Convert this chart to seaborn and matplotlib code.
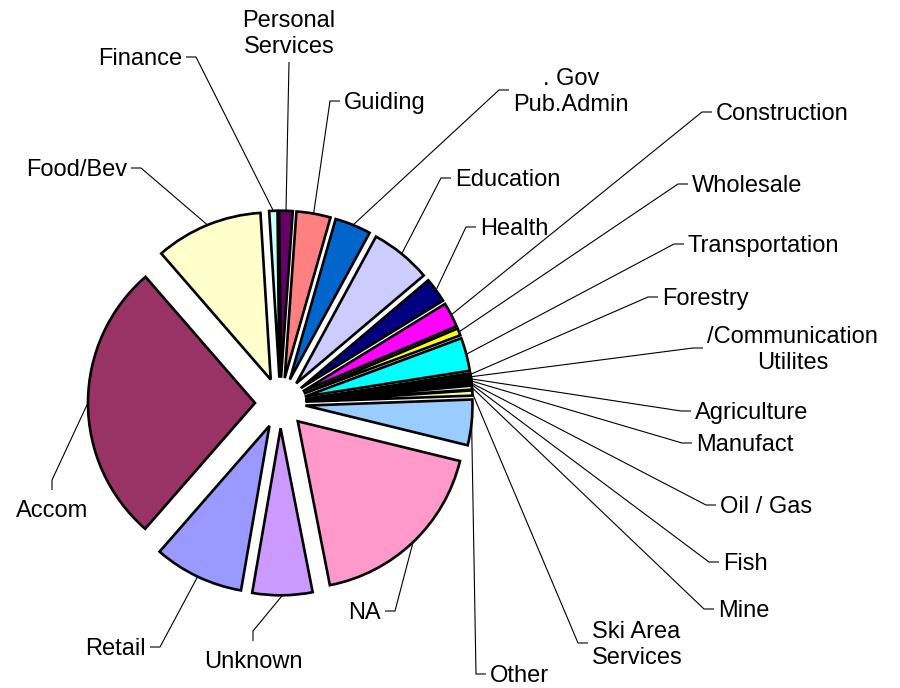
import matplotlib
matplotlib.use("Agg")
import matplotlib.pyplot as plt
import numpy as np
import seaborn as sns

# Share of employment by sector (%), listed clockwise starting from Retail
sectors = [
    "Retail", "Accom", "Food/Bev", "Finance", "Personal\nServices", "Guiding",
    ". Gov\nPub.Admin", "Education", "Health", "Construction", "Wholesale",
    "Transportation", "Forestry", "/Communication\nUtilites", "Agriculture",
    "Manufact", "Oil / Gas", "Fish", "Mine", "Ski Area\nServices", "Other",
    "NA", "Unknown",
]
shares = [
    8.7, 27.2, 10.4, 0.8, 1.3, 3.3,
    3.5, 5.9, 2.4, 2.4, 0.7,
    3.2, 0.2, 0.2, 0.15,
    0.2, 0.15, 0.1, 0.4, 0.5, 4.4,
    18.1, 5.8,
]
colors = [
    "#9999FF", "#993366", "#FFFFCC", "#CCFFFF", "#660066", "#FF8080",
    "#0066CC", "#CCCCFF", "#000080", "#FF00FF", "#FFFF00",
    "#00FFFF", "#800080", "#800000", "#008080",
    "#0000FF", "#00CCFF", "#CCFFFF", "#CCFFCC", "#FFFF99", "#99CCFF",
    "#FF99CC", "#CC99FF",
]

# Label placement: (x, y, side) in figure-pixel layout units (y grows downward).
# side: "r" text right of the leader, "l" text left, "b" text below, "t" text above
label_layout = {
    "Retail": (146, 647, "l"),
    "Accom": (52, 509, "b"),
    "Food/Bev": (127, 168, "l"),
    "Finance": (182, 57, "l"),
    "Personal\nServices": (289, 32, "t"),
    "Guiding": (344, 101, "r"),
    ". Gov\nPub.Admin": (513, 90, "r"),
    "Education": (455, 178, "r"),
    "Health": (480, 227, "r"),
    "Construction": (716, 112, "r"),
    "Wholesale": (692, 184, "r"),
    "Transportation": (688, 244, "r"),
    "Forestry": (662, 297, "r"),
    "/Communication\nUtilites": (707, 348, "r"),
    "Agriculture": (695, 411, "r"),
    "Manufact": (696, 443, "r"),
    "Oil / Gas": (720, 505, "r"),
    "Fish": (723, 562, "r"),
    "Mine": (718, 609, "r"),
    "Ski Area\nServices": (592, 643, "r"),
    "Other": (490, 674, "r"),
    "NA": (381, 611, "l"),
    "Unknown": (253, 660, "b"),
}
centered_blocks = {". Gov\nPub.Admin", "/Communication\nUtilites"}

sns.set_theme(style="white")
plt.rcParams["font.family"] = ["Liberation Sans", "DejaVu Sans"]

W, H = 900, 688
fig = plt.figure(figsize=(W / 100, H / 100), dpi=100)
ax = fig.add_axes([0, 0, 1, 1])

radius = 167
gap = 25.3  # radial offset of every slice, in data units
pie_center = (280.3, 403)
wedges, _ = ax.pie(
    shares,
    colors=colors,
    explode=[gap] * len(shares),
    center=pie_center,
    radius=radius,
    startangle=99.8,
    counterclock=True,
    wedgeprops=dict(edgecolor="black", linewidth=1.9),
)

ax.set_xlim(0, W)
ax.set_ylim(H, 0)
ax.set_aspect("equal")
ax.axis("off")

font_kw = dict(fontsize=17, color="black", linespacing=1.25)
line_kw = dict(color="black", lw=0.8, solid_capstyle="butt")
dy = 2  # baseline nudge so the text centre sits on the leader

for w, name in zip(wedges, sectors):
    mid = np.deg2rad((w.theta1 + w.theta2) / 2)
    cx, cy = w.center
    anchor = (cx + w.r * np.cos(mid), cy + w.r * np.sin(mid))
    x, y, side = label_layout[name]
    if side == "r":
        knee, end = (x - 14, y), (x - 4, y)
        align = "center" if name in centered_blocks else "left"
        ax.text(x, y + dy, name, ha="left", va="center", multialignment=align, **font_kw)
    elif side == "l":
        knee, end = (x + 14, y), (x + 4, y)
        ax.text(x, y + dy, name, ha="right", va="center", **font_kw)
    elif side == "b":
        knee, end = (x, y - 29), (x, y - 19)
        ax.text(x, y + dy, name, ha="center", va="center", **font_kw)
    else:
        knee = end = (x, y + 30)
        ax.text(x, y + dy, name, ha="center", va="center", multialignment="center", **font_kw)
    ax.plot([anchor[0], knee[0], end[0]], [anchor[1], knee[1], end[1]], **line_kw)

fig.savefig("out.png", dpi=100, facecolor="white")
